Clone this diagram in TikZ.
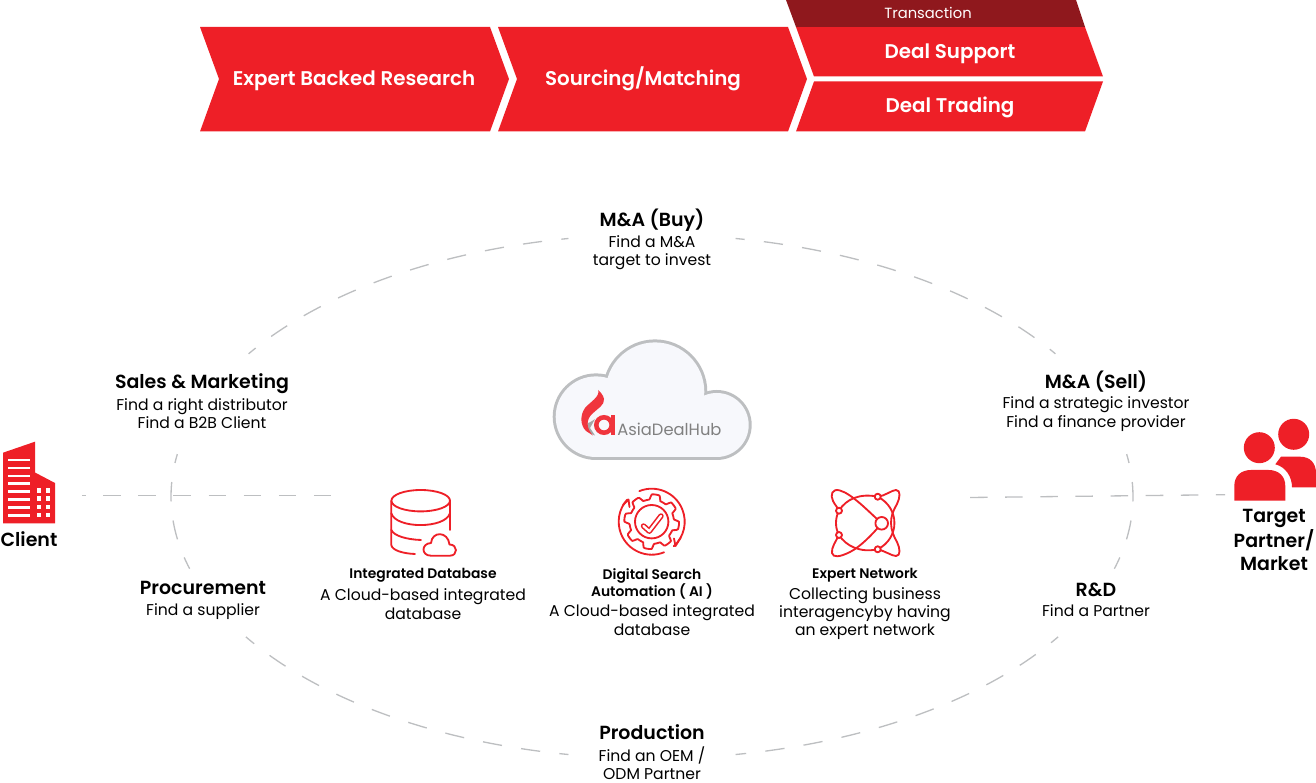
\documentclass[tikz,border=0pt]{standalone}
\usepackage{fontspec}
\setmainfont{Poppins}[BoldFont={Poppins SemiBold}]
\usepackage{tikz}
\definecolor{adhred}{HTML}{EE1F27}
\definecolor{adhdark}{HTML}{8F181D}
\definecolor{adhgrey}{HTML}{BDBFC1}
\definecolor{adhcloud}{HTML}{F7F8FC}
\tikzset{
    banner/.style={text=white, text height=0.72em, text depth=0pt, font=\bfseries\fontsize{11.3}{13}\selectfont},
    headlabel/.style={text=black, text height=0.72em, text depth=0pt, font=\bfseries\fontsize{10.8}{13}\selectfont},
    sublabel/.style={text=black, align=center, font=\fontsize{8.9}{10.4}\selectfont},
    toollabel/.style={text=black, align=center, font=\bfseries\fontsize{7.9}{9.6}\selectfont},
    dashline/.style={adhgrey, line width=0.75pt, dash pattern=on 10pt off 10pt},
    ovaldash/.style={adhgrey, line width=0.75pt, dash pattern=on 11pt off 11pt, dash phase=5.8pt},
    iconline/.style={adhred, line width=1.05pt, line cap=round, line join=round},
}
\begin{document}
\begin{tikzpicture}[x=0.02cm, y=-0.02cm]
        \useasboundingbox (0,0) rectangle (1316,783);

        % Bandeau du haut
        \fill[adhred] (200,27) -- (490,27) -- (509,79) -- (490,131.5) -- (200,131.5) -- (219,79) -- cycle;
        \fill[adhred] (498,27) -- (788,27) -- (807,79) -- (788,131.5) -- (498,131.5) -- (517,79) -- cycle;
        \fill[adhred] (796,27) -- (1085,27) -- (1103,76.5) -- (814,76.5) -- cycle;
        \fill[adhred] (814,81.5) -- (1103,81.5) -- (1085,131.5) -- (796,131.5) -- cycle;
        \fill[adhdark] (786,0) -- (1076,0) -- (1085,27) -- (796,27) -- cycle;
        \node[banner] (research) at (354,79) {Expert Backed Research};
        \node[banner] (sourcing) at (643,79) {Sourcing/Matching};
        \node[banner] (support) at (950,52) {Deal Support};
        \node[banner] (trading) at (950,106) {Deal Trading};
        \node[text=white, font=\fontsize{8.4}{9}\selectfont] (transaction) at (928,12.5) {Transaction};

        % Ovale en pointillés
        \coordinate (oval) at (652,496.5);
        \foreach \from/\to in {-147/-100, -80/-33, -9.3/16, 32.4/80, 100/147.6, 189.3/164}
            \draw[ovaldash] (oval) ++(\from:481 and 262)
                arc[start angle=\from, end angle=\to, x radius=481, y radius=262];

        % Lignes horizontales
        \coordinate (clientEnd) at (82,495.5);
        \coordinate (baseEnd) at (334,495.5);
        \coordinate (networkEnd) at (970,497.5);
        \coordinate (targetEnd) at (1225,494.7);
        \draw[dashline, dash phase=8pt] (clientEnd) -- (baseEnd);
        \draw[dashline] (networkEnd) -- (targetEnd);

        % Nuage
        \foreach \x/\y/\r in {596/416.7/43.3, 655/391.7/52.3, 716.7/425/35}
            \fill[adhgrey] (\x,\y) circle[radius=\r];
        \fill[adhgrey] (596,423) rectangle (716.7,460);
        \foreach \x/\y/\r in {596/416.7/40.3, 655/391.7/49.3, 716.7/425/32}
            \fill[adhcloud] (\x,\y) circle[radius=\r];
        \fill[adhcloud] (596,423) rectangle (716.7,457);
        \fill[gray!70] (584,424) .. controls (588,424) and (592,421) .. (595,419)
            -- (590,428) -- (595,435.5) .. controls (590,434) and (586,430) .. (584,424) -- cycle;
        \fill[adhred!90!white] (598.3,390) .. controls (600,397) and (590,402) .. (585,408)
            .. controls (580,415) and (580,425) .. (586,431) -- (593,435.5)
            .. controls (586,428) and (586,420) .. (592,414)
            .. controls (597,409) and (605,405) .. (604,399)
            .. controls (603.5,395) and (600,392) .. (598.3,390) -- cycle;
        \draw[adhred!90!white, line width=2.6pt] (604,425) circle[radius=7.7];
        \fill[adhred!90!white] (611,415) rectangle (614.5,435);
        \node[text=gray, font=\fontsize{9.3}{11}\selectfont, inner sep=0pt, anchor=west] (logo) at (617,429) {AsiaDealHub};

        % Immeuble
        \fill[adhred] (3,452.7) -- (35,441.7) -- (35,472.5) -- (55,483) -- (55,523.5) -- (3,523.5) -- cycle;
        \foreach \y in {458.7,466.7,474.7,482.4,490,498,506,514}
            \fill[white] (8,\y) rectangle (30,\y+2.8);
        \foreach \y in {488.3,496.5,504.7,513}
            \foreach \x in {36.7,45.5}
                \fill[white] (\x,\y) rectangle (\x+4.5,\y+4.4);

        % Personnes
        \fill[adhred] (1293.7,434.3) circle[radius=15.5];
        \fill[adhred] (1275.3,464.3) -- (1281,456.7) -- (1300,456.7)
            .. controls (1310,456.7) and (1316,463) .. (1316,473) -- (1316,487.3) -- (1292,487.3)
            .. controls (1292,477) and (1286,467) .. (1275.3,464.3) -- cycle;
        \fill[adhred] (1259.3,447.7) circle[radius=15.5];
        \fill[adhred] (1234.3,500.7) -- (1234.3,486) .. controls (1234.3,476) and (1241,470) .. (1251,470)
            -- (1268.5,470) .. controls (1278.5,470) and (1285.3,476) .. (1285.3,486) -- (1285.3,500.7) -- cycle;

        % Base de données
        \draw[iconline] (420.7,500.7) ellipse[x radius=29.3, y radius=10.7];
        \draw[iconline] (391.3,500.7) -- (391.3,545) .. controls (392,550) and (402,553.5) .. (415,554);
        \draw[iconline] (450,500.7) -- (450,530);
        \draw[iconline] (391.3,513.3) .. controls (396,529) and (445,529) .. (450,513.3);
        \draw[iconline] (391.3,530) .. controls (394,536) and (407,539.5) .. (421,540);
        \draw[iconline] (431,555.7) -- (450,555.7) .. controls (458,555.7) and (458,544.5) .. (449.5,544.5)
            .. controls (448,531) and (432,531) .. (431,543)
            .. controls (421,543.5) and (421,555.7) .. (431,555.7) -- cycle;

        % Engrenage
        \coordinate (gear) at (651.7,521.7);
        \draw[iconline] (gear) ++(-112:33) arc[start angle=-112, end angle=48, x radius=33, y radius=33];
        \draw[iconline] (gear) ++(68:33) arc[start angle=68, end angle=222, x radius=33, y radius=33];
        \draw[iconline] (623,505) -- (628.5,499.5) -- (629.5,507);
        \draw[iconline] (680.5,538) -- (675.5,546) -- (674,538.5);
        \draw[iconline, shift={(gear)}] plot[domain=0:360, samples=145, smooth cycle]
            (\x:{24.8+2.6*max(-1,min(1,2.5*sin(8*\x+22)))});
        \draw[iconline] (gear) circle[radius=16.7];
        \draw[adhred, line width=3.1pt, line cap=round, line join=round] (643.5,526) -- (649.3,531.2) -- (661,516);
        \draw[white, line width=1.3pt, line cap=round, line join=round] (643.5,526) -- (649.3,531.2) -- (661,516);

        % Réseau
        \draw[iconline] (881.7,523.3) .. controls (868,511) and (852,494) .. (840,490.5)
            .. controls (832,488) and (830,495) .. (833,501) .. controls (835,505) and (838,508) .. (839,510.7)
            .. controls (835,518) and (835,528) .. (839,535) .. controls (836,541) and (831,548) .. (832,553)
            .. controls (833,558) and (840,557) .. (850,552) .. controls (860,547) and (872,535) .. (881.7,523.3);
        \draw[iconline] (839,510.7) .. controls (846,499) and (860,493) .. (877.7,496.7)
            .. controls (885,496) and (892,490) .. (896,490) .. controls (901,490) and (900,498) .. (897,504)
            .. controls (893,511) and (891,516) .. (891,523) .. controls (891,530) and (894,537) .. (897,542)
            .. controls (900,548) and (901,556) .. (896,556) .. controls (892,556) and (885,551) .. (877.7,549.3)
            .. controls (860,553) and (846,546) .. (839,535);
        \draw[iconline] (877.7,496.7) .. controls (900,508) and (900,538) .. (877.7,549.3);
        \foreach \x/\y in {877.7/496.7, 839/510.7, 839/535, 877.7/549.3}
            \draw[iconline, fill=white] (\x,\y) circle[radius=3];
        \draw[iconline, fill=white] (881.7,523.3) circle[radius=6.3];

        % Textes du cercle
        \node[headlabel] (buy) at (652,220) {M\&A (Buy)};
        \node[sublabel] (buyText) at (652,253) {Find a M\&A\\target to invest};
        \node[headlabel] (sales) at (202,382) {Sales \& Marketing};
        \node[sublabel] (salesText) at (202,413.5) {Find a right distributor\\Find a B2B Client};
        \node[headlabel] (sell) at (1096,382) {M\&A (Sell)};
        \node[sublabel] (sellText) at (1096,414) {Find a strategic investor\\Find a finance provider};
        \node[headlabel] (procurement) at (203,588) {Procurement};
        \node[sublabel] (procurementText) at (203,612) {Find a supplier};
        \node[headlabel] (rnd) at (1096,590) {R\&D};
        \node[sublabel] (rndText) at (1096,611) {Find a Partner};
        \node[headlabel] (production) at (652,733) {Production};
        \node[sublabel] (productionText) at (652,763) {Find an OEM /\\ODM Partner};

        % Textes du centre
        \node[toollabel] (database) at (423,575.5) {Integrated Database};
        \node[sublabel] (databaseText) at (423,604) {A Cloud-based integrated\\database};
        \node[toollabel] (search) at (652,583.5) {Digital Search\\Automation ( AI )};
        \node[sublabel] (searchText) at (652,620) {A Cloud-based integrated\\database};
        \node[toollabel] (network) at (865,575.5) {Expert Network};
        \node[sublabel] (networkText) at (865,613.5) {Collecting business\\interagencyby having\\an expert network};

        % Extrémités
        \node[headlabel] (client) at (29,540) {Client};
        \node[text=black, align=center, font=\bfseries\fontsize{10.8}{12.7}\selectfont] (target) at (1274,540) {Target\\Partner/\\Market};
    \end{tikzpicture}
\end{document}
